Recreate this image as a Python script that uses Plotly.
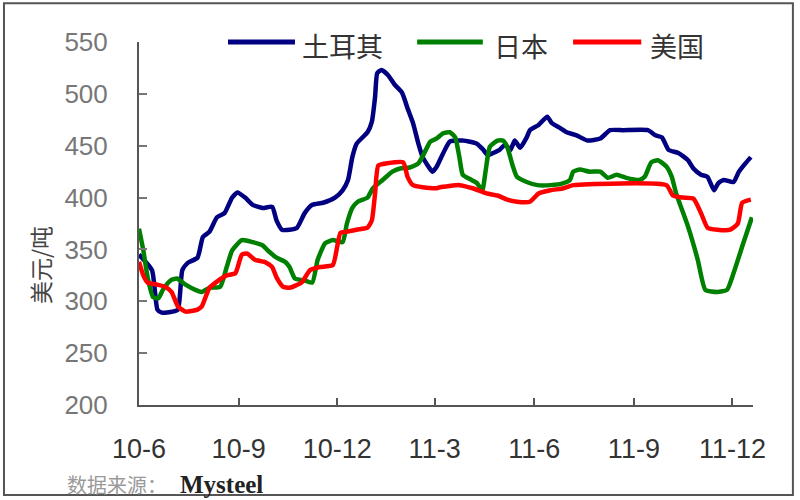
import plotly.graph_objects as go

# ---- data ----
tr_dates = ["2010-06-01","2010-06-13","2010-06-18","2010-06-22","2010-07-02","2010-07-07","2010-07-11","2010-07-16",
            "2010-07-25","2010-07-30","2010-08-05","2010-08-12","2010-08-19","2010-08-26","2010-08-31","2010-09-07",
            "2010-09-14","2010-09-23","2010-10-02","2010-10-06","2010-10-11","2010-10-18","2010-10-25","2010-11-01",
            "2010-11-08","2010-11-18","2010-11-29","2010-12-06","2010-12-11","2010-12-15","2010-12-19","2010-12-29",
            "2011-01-02","2011-01-05","2011-01-07","2011-01-11","2011-01-17","2011-01-23","2011-01-30","2011-02-04",
            "2011-02-09","2011-02-14","2011-02-18","2011-02-27","2011-03-03","2011-03-09","2011-03-15","2011-03-27",
            "2011-04-09","2011-04-15","2011-04-19","2011-04-24","2011-04-30","2011-05-05","2011-05-10","2011-05-14",
            "2011-05-19","2011-05-25","2011-05-28","2011-06-05","2011-06-13","2011-06-17","2011-06-25","2011-07-01",
            "2011-07-10","2011-07-20","2011-08-01","2011-08-10","2011-08-22","2011-09-14","2011-09-21","2011-09-27",
            "2011-10-03","2011-10-12","2011-10-21","2011-10-26","2011-11-02","2011-11-08","2011-11-14","2011-11-18",
            "2011-11-23","2011-12-02","2011-12-07","2011-12-13","2011-12-18"]
tr_vals = [345,330,292,289,290,292,330,337,
           342,362,367,381,385,400,405,400,
           393,390,391,378,369,369,371,385,
           393,395,400,407,417,439,452,463,
           473,497,520,523,518,509,501,486,
           472,452,439,425,430,443,454,455,
           452,446,441,443,446,451,446,455,
           448,458,465,470,478,472,467,463,
           460,455,457,465,465,465,460,458,
           446,443,436,428,422,420,407,414,
           417,415,425,433,439]

jp_dates = ["2010-06-01","2010-06-05","2010-06-09","2010-06-14","2010-06-19","2010-06-23","2010-06-30","2010-07-06",
            "2010-07-14","2010-07-23","2010-07-29","2010-08-05","2010-08-15","2010-08-21","2010-08-26","2010-09-04",
            "2010-09-14","2010-09-23","2010-09-28","2010-10-06","2010-10-14","2010-10-18","2010-10-23","2010-11-01",
            "2010-11-08","2010-11-13","2010-11-20","2010-11-27","2010-12-06","2010-12-10","2010-12-15","2010-12-20",
            "2010-12-29","2011-01-03","2011-01-12","2011-01-21","2011-01-28","2011-02-06","2011-02-14","2011-02-20",
            "2011-02-25","2011-03-03","2011-03-09","2011-03-15","2011-03-20","2011-03-24","2011-03-27","2011-04-04",
            "2011-04-09","2011-04-14","2011-04-17","2011-04-21","2011-04-28","2011-05-03","2011-05-07","2011-05-12",
            "2011-05-16","2011-05-25","2011-06-04","2011-06-16","2011-06-28","2011-07-04","2011-07-07","2011-07-13",
            "2011-07-22","2011-08-01","2011-08-08","2011-08-16","2011-08-25","2011-09-06","2011-09-11","2011-09-17",
            "2011-09-23","2011-10-01","2011-10-06","2011-10-10","2011-10-21","2011-10-30","2011-11-06","2011-11-17",
            "2011-11-26","2011-12-02","2011-12-11","2011-12-19"]
jp_vals = [370,349,323,304,303,311,320,322,
           316,311,309,313,314,333,349,359,
           357,354,349,342,338,333,322,320,
           318,340,356,359,357,375,390,396,
           400,409,417,425,428,429,433,444,
           454,457,462,463,458,438,422,417,
           414,407,425,449,455,455,449,431,
           420,415,412,412,414,417,425,427,
           425,425,419,422,419,417,420,434,
           436,430,420,404,372,340,311,309,
           311,327,356,381]

us_dates = ["2010-06-01","2010-06-05","2010-06-09","2010-06-18","2010-06-25","2010-07-01","2010-07-07","2010-07-14",
            "2010-07-25","2010-07-29","2010-08-05","2010-08-12","2010-08-21","2010-08-29","2010-09-04","2010-09-09",
            "2010-09-16","2010-09-25","2010-10-02","2010-10-06","2010-10-12","2010-10-18","2010-10-29","2010-11-06",
            "2010-11-15","2010-11-27","2010-12-04","2010-12-10","2010-12-19","2010-12-29","2011-01-02","2011-01-05",
            "2011-01-08","2011-01-16","2011-01-31","2011-02-04","2011-02-09","2011-02-18","2011-03-03","2011-03-06",
            "2011-03-24","2011-04-05","2011-04-18","2011-04-28","2011-05-07","2011-05-16","2011-05-28","2011-06-05",
            "2011-06-16","2011-06-28","2011-07-07","2011-10-01","2011-10-07","2011-10-16","2011-10-26","2011-11-02",
            "2011-11-08","2011-11-17","2011-11-29","2011-12-06","2011-12-10","2011-12-18"]
us_vals = [338,325,318,316,314,309,295,290,
           292,295,313,319,325,327,345,346,
           340,338,333,323,314,313,318,330,
           333,335,366,367,369,371,378,404,
           431,433,434,420,412,410,409,410,
           412,409,404,402,398,396,396,404,
           407,409,412,412,402,400,399,385,
           371,369,369,375,395,398]

tick_vals = ["2010-06-01","2010-09-01","2010-12-01","2011-03-01","2011-06-01","2011-09-01","2011-12-01"]
tick_text = ["10-6","10-9","10-12","11-3","11-6","11-9","11-12"]

series_names = ["土耳其", "日本", "美国"]
series_colors = ["#000080", "#008000", "#FF0000"]

fig = go.Figure()
for name, xs, ys, col in zip(series_names, [tr_dates, jp_dates, us_dates],
                             [tr_vals, jp_vals, us_vals], series_colors):
    fig.add_trace(go.Scatter(x=xs, y=ys, name=name, mode="lines",
                             line=dict(color=col, width=4.5, shape="spline", smoothing=0.5)))

fig.update_layout(
    width=800, height=500,
    margin=dict(l=139, r=47, t=42, b=95),
    paper_bgcolor="white", plot_bgcolor="white",
    showlegend=False,
    font=dict(family="Liberation Sans, Arial, sans-serif"),
)
fig.update_xaxes(
    type="date", range=["2010-06-01", "2011-12-20"],
    tickvals=tick_vals, ticktext=tick_text,
    ticks="inside", ticklen=7, tickwidth=1.5, tickcolor="#555555",
    showline=True, linecolor="#555555", linewidth=2,
    showgrid=False, zeroline=False,
    tickfont=dict(size=27, color="#333333", family="Liberation Sans, Arial, sans-serif"),
    ticklabelstandoff=19,
)
fig.update_yaxes(
    range=[200, 550], tickvals=[200, 250, 300, 350, 400, 450, 500, 550],
    ticks="inside", ticklen=8, tickwidth=1.5, tickcolor="#777777",
    showline=True, linecolor="#555555", linewidth=2,
    showgrid=False, zeroline=False,
    tickfont=dict(size=26, color="#777777", family="Liberation Sans, Arial, sans-serif"),
    ticklabelstandoff=24,
)

# y-axis title
fig.add_annotation(text="美元/吨", xref="paper", yref="paper", x=-0.161, y=0.386,
                   xanchor="center", yanchor="middle",
                   showarrow=False, textangle=-90,
                   font=dict(size=23, color="#444444", family="Noto Sans CJK SC"))

# legend drawn manually to match spacing
leg_lines = [(0.145, 0.254), (0.453, 0.560), (0.707, 0.818)]
leg_text_x = [0.262, 0.575, 0.829]
for (x0, x1), tx, name, col in zip(leg_lines, leg_text_x, series_names, series_colors):
    fig.add_shape(type="line", xref="paper", yref="paper", x0=x0, x1=x1, y0=1.0, y1=1.0,
                  line=dict(color=col, width=5))
    fig.add_annotation(text=name, xref="paper", yref="paper", x=tx, y=0.989,
                       xanchor="left", yanchor="middle", showarrow=False,
                       font=dict(size=27, color="#333333", family="Noto Sans CJK SC"))

# source note
fig.add_annotation(text="数据来源：", xref="paper", yref="paper", x=-0.1205, y=-0.22,
                   xanchor="left", yanchor="middle", showarrow=False,
                   font=dict(size=20, color="#999999", family="Noto Sans CJK SC"))
fig.add_annotation(text="<b>Mysteel</b>", xref="paper", yref="paper", x=0.0635, y=-0.22,
                   xanchor="left", yanchor="middle", showarrow=False,
                   font=dict(size=25, color="#222222", family="Liberation Serif"))

# outer frame
fig.add_shape(type="rect", xref="paper", yref="paper", x0=-0.2199, x1=1.065, y0=-0.248, y1=1.107,
              line=dict(color="#555555", width=2))

fig.write_html("out.html", config={"displayModeBar": False},
               post_script="document.body.style.margin='0px';")
